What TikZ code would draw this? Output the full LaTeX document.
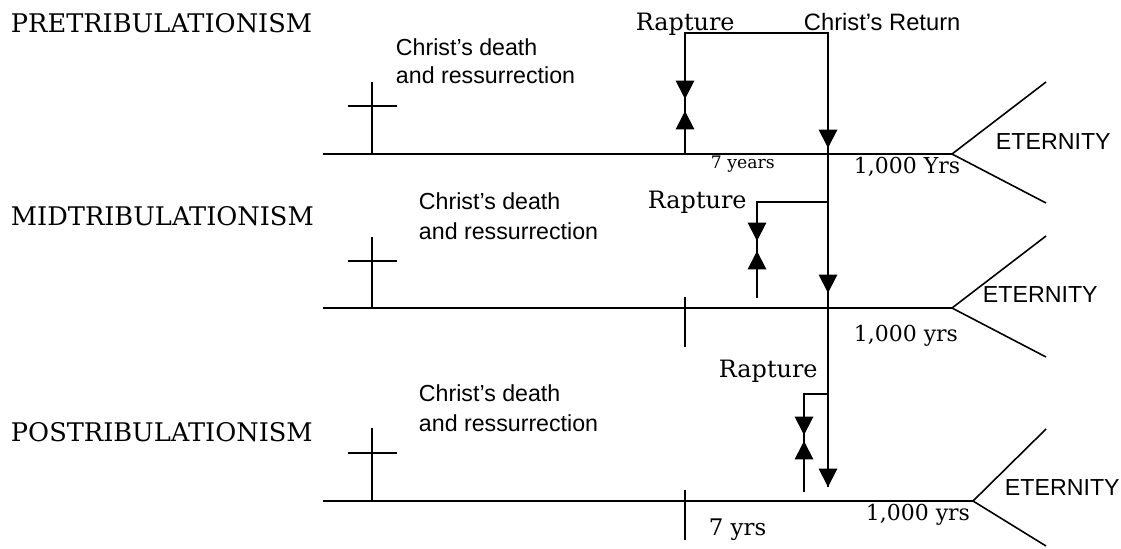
\documentclass[tikz,border=0pt]{standalone}
\usepackage{fontspec}
\setmainfont{Liberation Sans}
\newfontfamily\slab{DejaVu Serif}
\usetikzlibrary{arrows.meta}
\begin{document}
\begin{tikzpicture}[x=0.02cm,y=-0.02cm, line width=1.1pt,
  head/.style={font=\slab\fontsize{14.6}{17}\selectfont, anchor=base west, inner sep=0},
  slablbl/.style={font=\slab\fontsize{13.6}{16}\selectfont, anchor=base west, inner sep=0},
  yrs/.style={font=\slab\fontsize{12.5}{15}\selectfont, anchor=base west, inner sep=0},
  sanslbl/.style={font=\fontsize{13.2}{16}\selectfont, anchor=base west, inner sep=0},
  tri/.style={-{Triangle[length=10.5pt,width=10.5pt]}},
  branch/.style={line width=0.9pt}]
\useasboundingbox (0,0) rectangle (1121,548);

% ---------- headings ----------
\node[head] (pre) at (10,32) {PRETRIBULATIONISM};
\node[head] (mid) at (10,225) {MIDTRIBULATIONISM};
\node[head] (post) at (10,441) {POSTRIBULATIONISM};

% ---------- time lines ----------
\coordinate (s1) at (323,154); \coordinate (e1) at (952,154);
\coordinate (s2) at (323,308); \coordinate (e2) at (952,308);
\coordinate (s3) at (323,501); \coordinate (e3) at (973,501);
\draw (s1) -- (e1);
\draw (s2) -- (e2);
\draw (s3) -- (e3);

% branches
\coordinate (u1) at (1046,82);  \coordinate (d1) at (1046,203);
\coordinate (u2) at (1046,236); \coordinate (d2) at (1046,357);
\coordinate (u3) at (1046,429); \coordinate (d3) at (1046,546);
\draw[branch] (u1) -- (e1) -- (d1);
\draw[branch] (u2) -- (e2) -- (d2);
\draw[branch] (u3) -- (e3) -- (d3);
\node[sanslbl] (et1) at (995,149) {ETERNITY};
\node[sanslbl] (et2) at (982,302) {ETERNITY};
\node[sanslbl] (et3) at (1004,495) {ETERNITY};

% crosses
\coordinate (c1t) at (372,82);  \coordinate (c1b) at (372,154);
\coordinate (c1l) at (348,106); \coordinate (c1r) at (397,106);
\coordinate (c2t) at (372,237); \coordinate (c2b) at (372,308);
\coordinate (c2l) at (348,261); \coordinate (c2r) at (397,261);
\coordinate (c3t) at (372,428); \coordinate (c3b) at (372,501);
\coordinate (c3l) at (348,453); \coordinate (c3r) at (397,453);
\draw (c1t) -- (c1b); \draw (c1l) -- (c1r);
\draw (c2t) -- (c2b); \draw (c2l) -- (c2r);
\draw (c3t) -- (c3b); \draw (c3l) -- (c3r);

% death labels
\node[sanslbl] (dA1) at (395,55) {Christ’s death};
\node[sanslbl] (dA2) at (395,83) {and ressurrection};
\node[sanslbl] (dB1) at (418,209) {Christ’s death};
\node[sanslbl] (dB2) at (418,239) {and ressurrection};
\node[sanslbl] (dC1) at (418,401) {Christ’s death};
\node[sanslbl] (dC2) at (418,431) {and ressurrection};

% ticks
\coordinate (t2a) at (685,297); \coordinate (t2b) at (685,347);
\coordinate (t3a) at (685,490); \coordinate (t3b) at (685,540);
\draw (t2a) -- (t2b);
\draw (t3a) -- (t3b);

% ---------- top row rapture / return ----------
\node[slablbl] (rap1) at (635,30) {Rapture};
\node[sanslbl, font=\fontsize{13.5}{16}\selectfont] (ret) at (803,30) {Christ’s Return};
\coordinate (r1b) at (685,154); \coordinate (r1t) at (685,33);
\coordinate (rt) at (828,33); \coordinate (rb) at (828,487);
\draw (r1b) -- (r1t) -- (rt) -- (rb);
\coordinate (a1s) at (685,76);  \coordinate (a1e) at (685,99);
\coordinate (a2s) at (685,135); \coordinate (a2e) at (685,111);
\coordinate (a3s) at (828,124); \coordinate (a3e) at (828,148);
\draw[tri] (a1s) -- (a1e);
\draw[tri] (a2s) -- (a2e);
\draw[tri] (a3s) -- (a3e);
\node[slablbl, font=\slab\fontsize{9.8}{12}\selectfont] (y7a) at (710,168) {7 years};
\node[yrs] (k1) at (853,173) {1,000 Yrs};

% ---------- middle row ----------
\node[slablbl] (rap2) at (647,208) {Rapture};
\coordinate (m1) at (828,202); \coordinate (m2) at (757,202); \coordinate (m3) at (757,298);
\draw (m1) -- (m2) -- (m3);
\coordinate (b1s) at (757,220); \coordinate (b1e) at (757,241);
\coordinate (b2s) at (757,279); \coordinate (b2e) at (757,251);
\coordinate (b3s) at (828,268); \coordinate (b3e) at (828,293);
\draw[tri] (b1s) -- (b1e);
\draw[tri] (b2s) -- (b2e);
\draw[tri] (b3s) -- (b3e);
\node[yrs] (k2) at (853,341) {1,000 yrs};

% ---------- bottom row ----------
\node[slablbl] (rap3) at (718,377) {Rapture};
\coordinate (p1) at (828,394); \coordinate (p2) at (804,394); \coordinate (p3) at (804,492);
\draw (p1) -- (p2) -- (p3);
\coordinate (q1s) at (804,413); \coordinate (q1e) at (804,435);
\coordinate (q2s) at (804,469); \coordinate (q2e) at (804,441);
\coordinate (q3s) at (828,462); \coordinate (q3e) at (828,487);
\draw[tri] (q1s) -- (q1e);
\draw[tri] (q2s) -- (q2e);
\draw[tri] (q3s) -- (q3e);
\node[yrs, font=\slab\fontsize{13}{15}\selectfont] (y7b) at (708,535) {7 yrs};
\node[yrs] (k3) at (865,520) {1,000 yrs};
\end{tikzpicture}
\end{document}
